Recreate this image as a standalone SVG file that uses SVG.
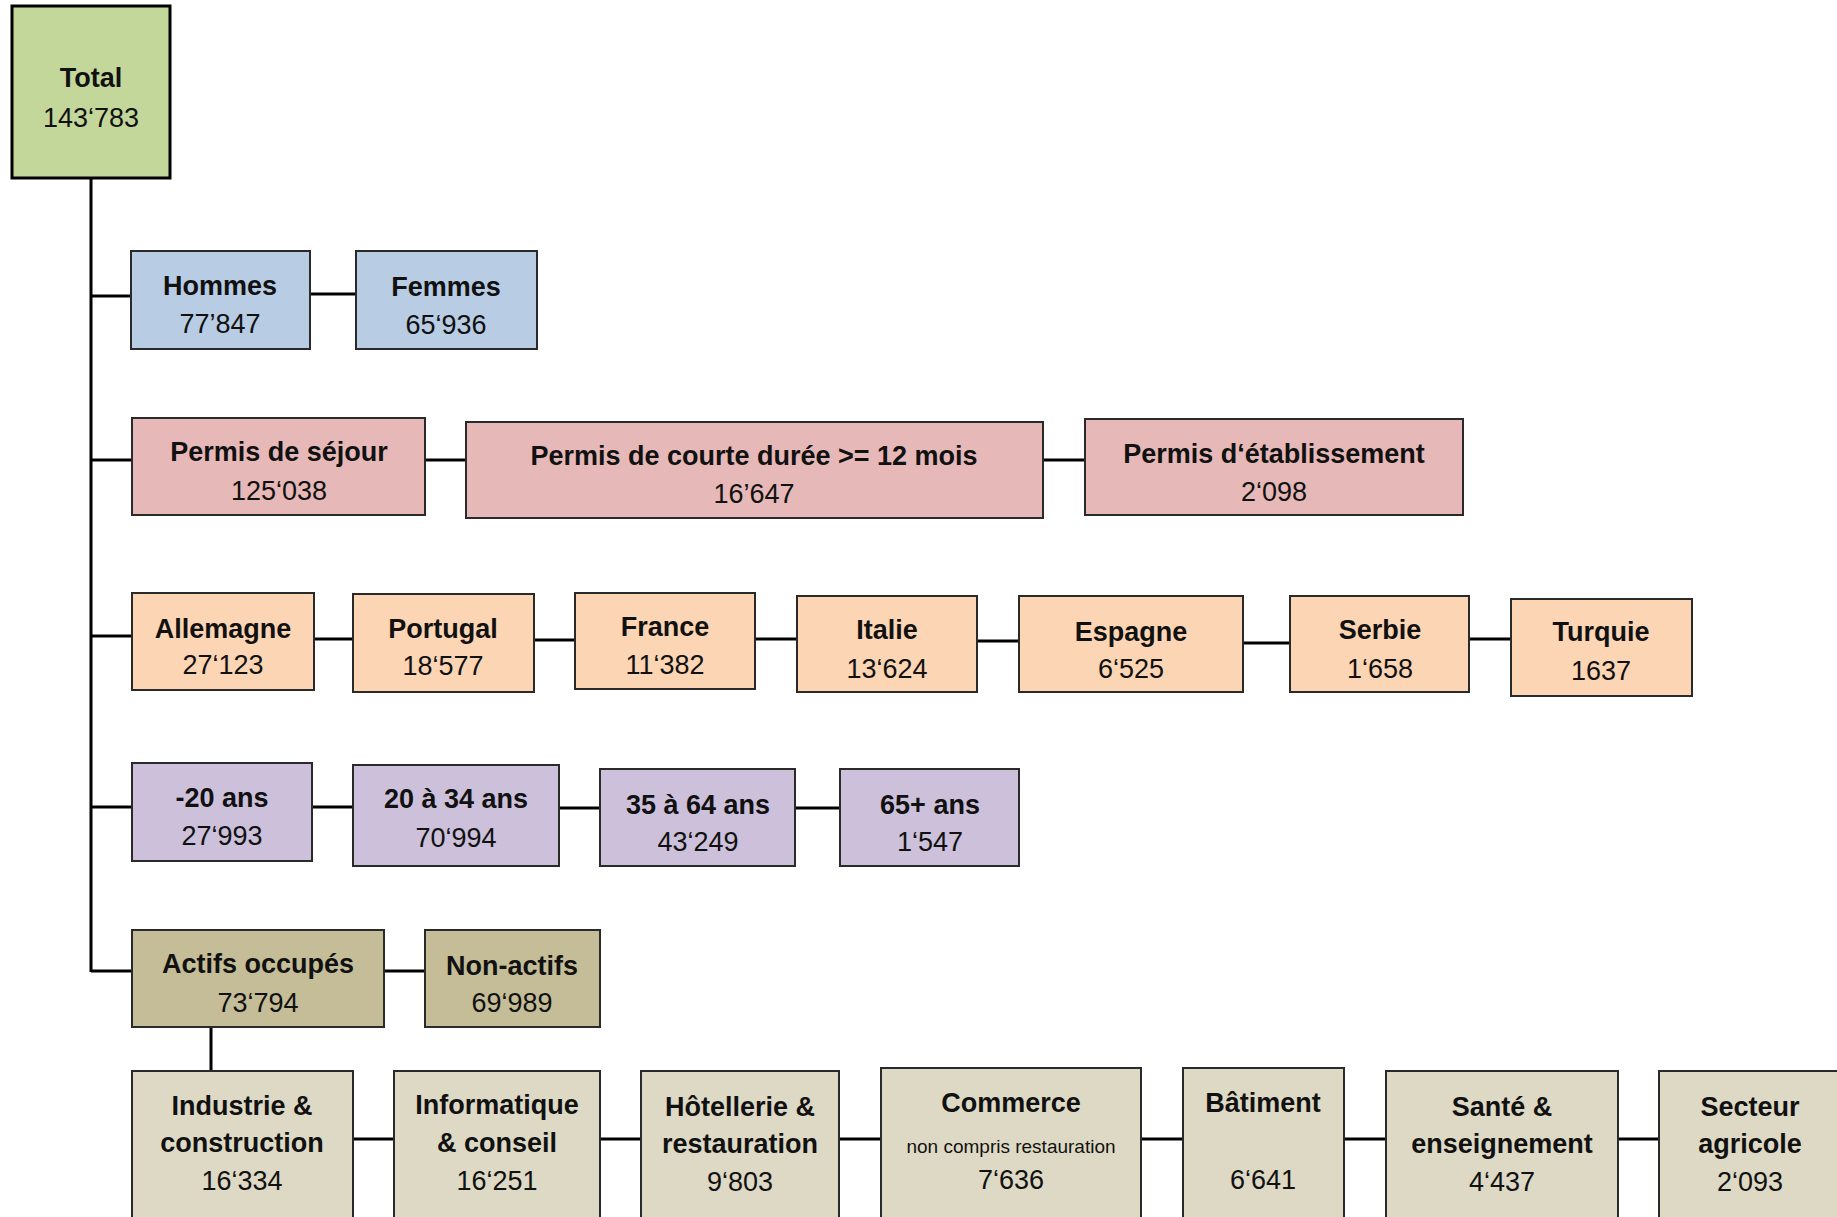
<svg xmlns="http://www.w3.org/2000/svg" width="1837" height="1217" viewBox="0 0 1837 1217">
<style>
.box{stroke:#2a2a2a;stroke-width:2}
.t{font-family:"Liberation Sans",Arial,sans-serif;font-size:27px;fill:#111;text-anchor:middle}
.b{font-weight:bold}
.s{font-size:19px}
.c{stroke:#000;stroke-width:3;fill:none}
.g{fill:#C4D79B}.bl{fill:#B8CCE4}.r{fill:#E6B8B7}.o{fill:#FCD5B4}.p{fill:#CCC0DA}.k{fill:#C4BD97}.l{fill:#DDD9C4}
</style>
<rect width="1837" height="1217" fill="#fff"/>
<g id="connectors">
<path class="c" d="M91 178V972"/>
<path class="c" d="M91 296H131M310 294H356"/>
<path class="c" d="M91 460H132M425 460H466M1043 460H1085"/>
<path class="c" d="M91 636H132M314 639H353M534 640H575M755 639H797M977 641H1019M1243 643H1290M1469 639H1511"/>
<path class="c" d="M91 807H132M312 807H353M559 808H600M795 808H840"/>
<path class="c" d="M91 971H132M384 971H425"/>
<path class="c" d="M211 1027V1071"/>
<path class="c" d="M353 1139H394M600 1139H641M839 1139H881M1141 1139H1183M1344 1139H1386M1618 1139H1659"/>
</g>
<g id="total"><rect class="box g" x="12" y="6" width="158" height="172" style="stroke:#000;stroke-width:3"/><text class="t b" x="91" y="87">Total</text><text class="t" x="91" y="127">143‘783</text></g>
<g id="hommes"><rect class="box bl" x="131" y="251" width="179" height="98"/><text class="t b" x="220" y="295">Hommes</text><text class="t" x="220" y="333">77’847</text></g>
<g id="femmes"><rect class="box bl" x="356" y="251" width="181" height="98"/><text class="t b" x="446" y="296">Femmes</text><text class="t" x="446" y="334">65‘936</text></g>
<g id="permis-sejour"><rect class="box r" x="132" y="418" width="293" height="97"/><text class="t b" x="279" y="461">Permis de séjour</text><text class="t" x="279" y="500">125‘038</text></g>
<g id="permis-courte"><rect class="box r" x="466" y="422" width="577" height="96"/><text class="t b" x="754" y="465">Permis de courte durée &gt;= 12 mois</text><text class="t" x="754" y="503">16’647</text></g>
<g id="permis-etablissement"><rect class="box r" x="1085" y="419" width="378" height="96"/><text class="t b" x="1274" y="463">Permis d‘établissement</text><text class="t" x="1274" y="501">2‘098</text></g>
<g id="allemagne"><rect class="box o" x="132" y="593" width="182" height="97"/><text class="t b" x="223" y="638">Allemagne</text><text class="t" x="223" y="674">27‘123</text></g>
<g id="portugal"><rect class="box o" x="353" y="594" width="181" height="98"/><text class="t b" x="443" y="638">Portugal</text><text class="t" x="443" y="675">18‘577</text></g>
<g id="france"><rect class="box o" x="575" y="593" width="180" height="96"/><text class="t b" x="665" y="636">France</text><text class="t" x="665" y="674">11‘382</text></g>
<g id="italie"><rect class="box o" x="797" y="596" width="180" height="96"/><text class="t b" x="887" y="639">Italie</text><text class="t" x="887" y="678">13‘624</text></g>
<g id="espagne"><rect class="box o" x="1019" y="596" width="224" height="96"/><text class="t b" x="1131" y="641">Espagne</text><text class="t" x="1131" y="678">6‘525</text></g>
<g id="serbie"><rect class="box o" x="1290" y="596" width="179" height="96"/><text class="t b" x="1380" y="639">Serbie</text><text class="t" x="1380" y="678">1‘658</text></g>
<g id="turquie"><rect class="box o" x="1511" y="599" width="181" height="97"/><text class="t b" x="1601" y="641">Turquie</text><text class="t" x="1601" y="680">1637</text></g>
<g id="moins20"><rect class="box p" x="132" y="763" width="180" height="98"/><text class="t b" x="222" y="807">-20 ans</text><text class="t" x="222" y="845">27‘993</text></g>
<g id="age20-34"><rect class="box p" x="353" y="765" width="206" height="101"/><text class="t b" x="456" y="808">20 à 34 ans</text><text class="t" x="456" y="847">70‘994</text></g>
<g id="age35-64"><rect class="box p" x="600" y="769" width="195" height="97"/><text class="t b" x="698" y="814">35 à 64 ans</text><text class="t" x="698" y="851">43‘249</text></g>
<g id="age65"><rect class="box p" x="840" y="769" width="179" height="97"/><text class="t b" x="930" y="814">65+ ans</text><text class="t" x="930" y="851">1‘547</text></g>
<g id="actifs"><rect class="box k" x="132" y="930" width="252" height="97"/><text class="t b" x="258" y="973">Actifs occupés</text><text class="t" x="258" y="1012">73‘794</text></g>
<g id="non-actifs"><rect class="box k" x="425" y="930" width="175" height="97"/><text class="t b" x="512" y="975">Non-actifs</text><text class="t" x="512" y="1012">69‘989</text></g>
<g id="industrie"><rect class="box l" x="132" y="1071" width="221" height="170"/><text class="t b" x="242" y="1115">Industrie &amp;</text><text class="t b" x="242" y="1152">construction</text><text class="t" x="242" y="1190">16‘334</text></g>
<g id="informatique"><rect class="box l" x="394" y="1071" width="206" height="170"/><text class="t b" x="497" y="1114">Informatique</text><text class="t b" x="497" y="1152">&amp; conseil</text><text class="t" x="497" y="1190">16‘251</text></g>
<g id="hotellerie"><rect class="box l" x="641" y="1071" width="198" height="170"/><text class="t b" x="740" y="1116">Hôtellerie &amp;</text><text class="t b" x="740" y="1153">restauration</text><text class="t" x="740" y="1191">9‘803</text></g>
<g id="commerce"><rect class="box l" x="881" y="1068" width="260" height="173"/><text class="t b" x="1011" y="1112">Commerce</text><text class="t s" x="1011" y="1153">non compris restauration</text><text class="t" x="1011" y="1189">7‘636</text></g>
<g id="batiment"><rect class="box l" x="1183" y="1068" width="161" height="173"/><text class="t b" x="1263" y="1112">Bâtiment</text><text class="t" x="1263" y="1189">6‘641</text></g>
<g id="sante"><rect class="box l" x="1386" y="1071" width="232" height="170"/><text class="t b" x="1502" y="1116">Santé &amp;</text><text class="t b" x="1502" y="1153">enseignement</text><text class="t" x="1502" y="1191">4‘437</text></g>
<g id="secteur-agricole"><rect class="box l" x="1659" y="1071" width="182" height="170"/><text class="t b" x="1750" y="1116">Secteur</text><text class="t b" x="1750" y="1153">agricole</text><text class="t" x="1750" y="1191">2‘093</text></g>
</svg>
